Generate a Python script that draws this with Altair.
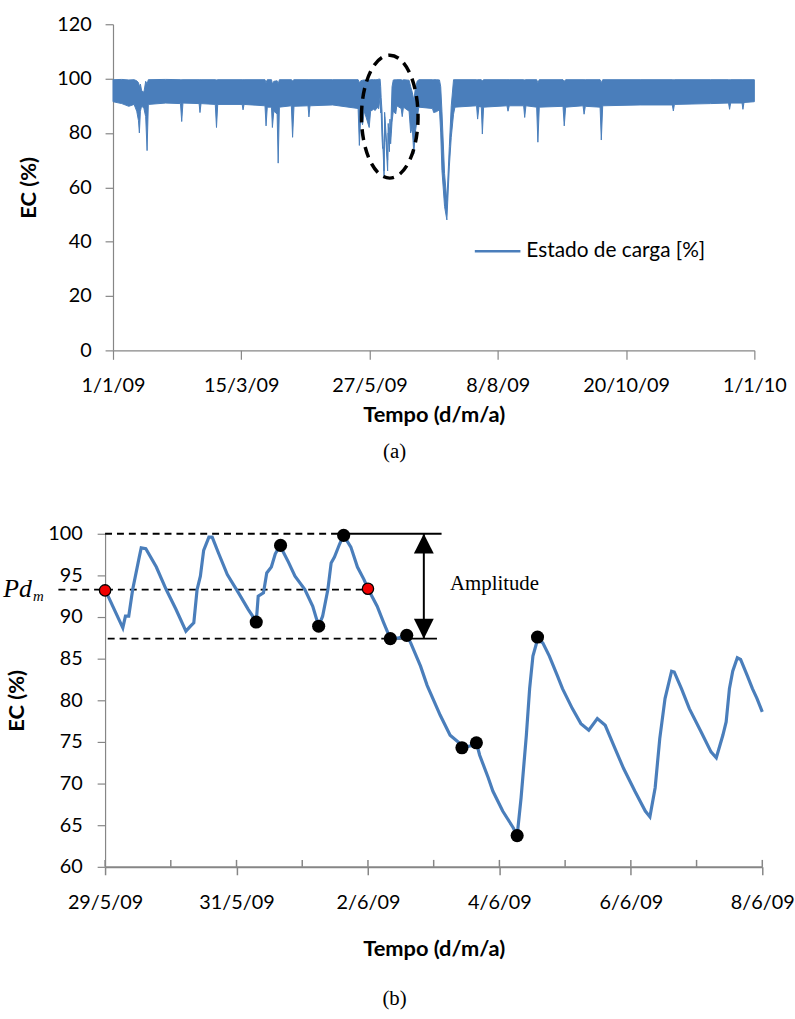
import altair as alt
import pandas as pd

BLUE = "#4A7EBB"
GRAY = "#868686"
SANS = "Lato"
SERIF = "Liberation Serif"

# ---------------- panel (a): one year of state of charge -----------------
# day offset from 1/1/09, lower and upper envelope of the hourly series (%)
a_day = [0, 5, 9, 12, 13.5, 14.5, 15.0, 15.6, 16.3, 17.6,
         18.6, 19.4, 20.1, 30, 38.4, 39.1, 39.8, 49.0, 49.5, 50.1,
         58.2, 58.9, 59.6, 73.5, 74.0, 74.6, 86.5, 87.1, 87.8, 90.2,
         90.7, 91.5, 93.4, 94.0, 94.7, 101.5, 102.2, 103.0, 111.0, 111.5,
         112.1, 125, 139.5, 140.2, 141.0, 142.0, 143.0, 145.8, 146.6, 148.27,
         149.23, 150.30, 151.25, 152.0, 152.34, 152.6, 153.1, 153.43, 153.65, 154.27,
         154.58, 155.36, 156.29, 156.62, 157.30, 157.62, 158.0, 158.8, 159.5, 160.9,
         161.5, 164.0, 164.6, 165.3, 168.5, 169.4, 170.3, 171.2, 172.0, 173.1,
         174.0, 181.8, 182.5, 184.0, 185.8, 186.5, 187.2, 188.7, 190.0, 191.4,
         192.5, 193.8, 194.6, 206.9, 207.5, 208.3, 209.6, 210.2, 210.9, 224.2,
         224.8, 225.5, 233.7, 234.3, 235.0, 241.1, 241.8, 242.6, 256.1, 256.8,
         257.6, 267.5, 268.1, 268.8, 277.2, 277.9, 278.7, 300, 318.3, 318.9,
         319.5, 340, 350.3, 350.9, 351.5, 358.0, 358.5, 359.1, 365]
a_low = [91.5, 90.8, 89.8, 90.5, 88.0, 84.5, 80.0, 88.0, 90.0, 89.0,
         86.0, 73.5, 90.5, 91.0, 90.8, 84.2, 91.0, 90.8, 87.5, 90.8,
         90.5, 82.0, 90.5, 90.5, 88.5, 90.5, 90.0, 82.6, 89.5, 89.5,
         82.0, 88.0, 87.0, 68.9, 89.5, 90.0, 78.4, 89.8, 90.0, 85.9,
         90.0, 90.3, 89.0, 75.4, 86.0, 83.0, 88.0, 82.0, 88.0, 88.7,
         88.3, 89.4, 88.9, 93.4, 87.4, 87.8, 78.2, 74.3, 74.9, 63.8,
         86.0, 76.4, 66.0, 80.0, 73.1, 82.0, 76.0, 84.0, 88.0, 87.0,
         90.0, 89.0, 86.0, 89.5, 88.0, 80.0, 82.0, 72.3, 80.0, 85.0,
         89.5, 89.0, 87.5, 87.8, 88.5, 80.0, 66.2, 52.9, 48.0, 67.5,
         78.4, 86.9, 89.5, 90.0, 85.1, 89.8, 89.5, 79.6, 89.5, 90.0,
         88.0, 90.0, 90.0, 85.7, 90.0, 89.5, 76.6, 89.5, 89.8, 82.6,
         89.5, 90.0, 86.9, 89.8, 89.5, 77.4, 90.0, 90.3, 90.3, 88.1,
         90.5, 90.8, 91.0, 88.7, 91.0, 91.0, 88.7, 91.2, 91.5]
a_high = [99.6, 99.7, 99.5, 99.6, 99.2, 98.5, 97.0, 98.0, 95.5, 95.0,
          99.0, 98.0, 99.6, 99.7, 99.6, 99.6, 99.6, 99.6, 99.6, 99.6,
          99.6, 99.5, 99.6, 99.6, 99.6, 99.6, 99.6, 98.5, 99.6, 99.6,
          98.0, 99.0, 99.2, 98.0, 99.6, 99.6, 99.2, 99.6, 99.6, 99.6,
          99.6, 99.6, 99.6, 98.5, 99.2, 99.4, 99.5, 99.5, 99.6, 99.6,
          99.6, 99.6, 99.8, 99.8, 97.0, 93.0, 88.0, 80.0, 78.0, 66.0,
          87.6, 80.0, 70.0, 83.5, 76.0, 85.1, 80.0, 97.0, 99.5, 99.6,
          99.6, 99.6, 99.4, 99.6, 99.4, 97.0, 95.0, 92.0, 96.0, 99.0,
          99.6, 99.6, 99.6, 99.6, 99.5, 97.0, 88.0, 65.0, 55.0, 75.0,
          90.0, 99.6, 99.6, 99.6, 99.6, 99.6, 99.6, 99.2, 99.6, 99.6,
          99.6, 99.6, 99.6, 99.5, 99.6, 99.6, 98.5, 99.6, 99.6, 99.0,
          99.6, 99.6, 99.6, 99.6, 99.6, 98.5, 99.6, 99.6, 99.6, 99.6,
          99.6, 99.6, 99.6, 99.6, 99.6, 99.6, 99.6, 99.6, 99.6]
assert len(a_day) == len(a_low) == len(a_high)
a_tick_dates = [(2009, 1, 1), (2009, 3, 15), (2009, 5, 27), (2009, 8, 8), (2009, 10, 20), (2010, 1, 1)]
a_y_ticks = [0, 20, 40, 60, 80, 100, 120]
a_ellipse_day = [157.5]
a_ellipse_val = [86.0]
a_legend_label = "Estado de carga [%]"

# ---------------- panel (b): 29/5/09 - 8/6/09 ----------------------------
b_day = [0.00, 0.27, 0.31, 0.36, 0.42, 0.52, 0.55, 0.62, 0.78, 0.93,
         1.08, 1.23, 1.30, 1.35, 1.40, 1.45, 1.50, 1.58, 1.63, 1.73,
         1.86, 2.03, 2.18, 2.28, 2.30, 2.33, 2.41, 2.46, 2.53, 2.59,
         2.66, 2.79, 2.89, 3.04, 3.16, 3.25, 3.31, 3.39, 3.44, 3.49,
         3.57, 3.63, 3.74, 3.84, 3.94, 4.00, 4.14, 4.24, 4.34, 4.47,
         4.59, 4.65, 4.80, 4.90, 5.10, 5.25, 5.40, 5.43, 5.60, 5.65,
         5.70, 5.83, 5.90, 6.05, 6.21, 6.27, 6.33, 6.41, 6.46, 6.51,
         6.58, 6.66, 6.76, 6.88, 6.96, 7.11, 7.24, 7.36, 7.49, 7.61,
         7.76, 7.89, 8.06, 8.22, 8.29, 8.37, 8.44, 8.52, 8.62, 8.66,
         8.77, 8.89, 9.07, 9.22, 9.30, 9.40, 9.45, 9.50, 9.55, 9.62,
         9.67, 9.77, 9.85, 9.92, 10.00]
b_val = [93.3, 88.7, 90.1, 90.1, 93.3, 97.2, 98.3, 98.2, 96.0, 93.3,
         90.9, 88.3, 88.9, 89.3, 93.3, 94.9, 98.0, 99.6, 99.6, 97.6,
         95.1, 92.9, 90.9, 89.7, 89.4, 92.5, 92.9, 95.3, 96.0, 97.6,
         98.6, 96.6, 94.9, 93.3, 91.3, 88.9, 90.1, 93.3, 96.5, 97.2,
         98.8, 99.8, 98.4, 96.0, 94.5, 93.4, 91.3, 89.3, 87.4, 87.5,
         87.8, 86.9, 84.1, 81.8, 78.2, 75.8, 74.8, 74.3, 74.6, 74.9,
         73.4, 70.7, 69.1, 66.7, 64.7, 63.75, 68.3, 75.8, 81.4, 85.3,
         87.3, 86.9, 85.3, 83.0, 81.4, 79.0, 77.2, 76.4, 77.8, 77.0,
         74.2, 71.8, 69.1, 66.7, 66.0, 69.5, 75.4, 80.2, 83.5, 83.4,
         81.4, 79.0, 76.2, 73.8, 73.1, 75.8, 77.4, 81.4, 83.5, 85.1,
         84.9, 83.0, 81.4, 80.2, 78.6]
assert len(b_day) == len(b_val)
b_black_day = [2.30, 2.67, 3.25, 3.63, 4.34, 4.59, 5.43, 5.65, 6.27, 6.58]
b_black_val = [89.4, 98.6, 88.9, 99.8, 87.4, 87.8, 74.3, 74.9, 63.75, 87.6]
b_red_day = [0.0, 4.0]
b_red_val = [93.2, 93.4]
b_tick_dates = [(2009, 5, 29), (2009, 5, 31), (2009, 6, 2), (2009, 6, 4), (2009, 6, 6), (2009, 6, 8)]
b_minor_days = [0, 1, 2, 3, 4, 5, 6, 7, 8, 9, 10]
b_y_ticks = [60, 65, 70, 75, 80, 85, 90, 95, 100]
# reference lines: level, start day, end day
b_dash_val = [100.0, 93.3, 87.4]
b_dash_start = [0.0, -0.71, 0.04]
b_dash_end = [3.63, 4.00, 4.34]
b_solid_val = [100.0, 87.4]
b_solid_start = [3.63, 4.34]
b_solid_end = [5.12, 5.05]
b_arrow_day = 4.85
b_amp_top, b_amp_bottom = 100.0, 87.4


def stamp(base, days):
    b = pd.Timestamp(base)
    return [(b + pd.to_timedelta(d, unit="D")).round("s").strftime("%Y-%m-%dT%H:%M:%S") for d in days]


def dt(y, m, d):
    return alt.DateTime(year=y, month=m, date=d)


LBL = 20     # tick label size
TTL = 22     # axis title size

# ======================= panel (a) =======================================
xa = dict(
    scale=alt.Scale(domain=[dt(2009, 1, 1), dt(2010, 1, 1)]),
    axis=alt.Axis(values=[dt(*d) for d in a_tick_dates], format="%-d/%-m/%y", formatType="time",
                  labelFlush=False, labelOverlap=False, grid=False,
                  tickSize=9, tickColor=GRAY, tickWidth=1.2, domainColor=GRAY, domainWidth=1.2,
                  labelFont=SANS, labelFontSize=LBL, labelColor="black", labelPadding=16,
                  title="Tempo (d/m/a)", titleFont=SANS, titleFontSize=TTL, titleFontWeight="bold",
                  titleColor="black", titleY=65, titleBaseline="middle"),
)
ya = dict(
    scale=alt.Scale(domain=[0, 120], nice=False, zero=False),
    axis=alt.Axis(values=a_y_ticks, grid=False, tickSize=8, tickColor=GRAY, tickWidth=1.2,
                  domainColor=GRAY, domainWidth=1.2, labelFont=SANS, labelFontSize=LBL,
                  labelColor="black", labelPadding=14, title="EC (%)", titleFont=SANS,
                  titleFontSize=TTL, titleFontWeight="bold", titleColor="black",
                  titleX=-78, titleBaseline="alphabetic"),
)

a_df = pd.DataFrame({"t": stamp("2009-01-01", a_day), "v": a_low, "v2": a_high})
band = alt.Chart(a_df).mark_area(color=BLUE, stroke=BLUE, strokeWidth=1, interpolate="linear").encode(
    x=alt.X("t:T", **xa), y=alt.Y("v:Q", **ya), y2="v2:Q")

ELLIPSE = "M -0.46 0 A 0.46 1 0 1 1 0.46 0 A 0.46 1 0 1 1 -0.46 0 Z"
ell_df = pd.DataFrame({"t": stamp("2009-01-01", a_ellipse_day), "v": a_ellipse_val})
ellipse = alt.Chart(ell_df).mark_point(shape=ELLIPSE, size=15376, filled=False, stroke="black",
                                       strokeWidth=3.5, strokeDash=[11, 7], opacity=1).encode(
    x=alt.X("t:T", **xa), y=alt.Y("v:Q", **ya))

one = pd.DataFrame({"k": [0]})
leg_line = alt.Chart(one).mark_rule(color=BLUE, strokeWidth=2.5).encode(
    x=alt.value(365), x2=alt.value(411), y=alt.value(229))
leg_text = alt.Chart(one).mark_text(text=a_legend_label, font=SANS, fontSize=21, color="black",
                                    align="left", baseline="middle").encode(
    x=alt.value(417), y=alt.value(229))
cap_a = alt.Chart(one).mark_text(text="(a)", font=SERIF, fontSize=21, color="black",
                                 align="center", baseline="middle").encode(
    x=alt.value(284), y=alt.value(432))
anchor_a = alt.Chart(one).mark_text(text=".", fontSize=2, color="white", align="left",
                                    baseline="top").encode(x=alt.value(0), y=alt.value(-19.3))

panel_a = alt.layer(band, ellipse, leg_line, leg_text, cap_a, anchor_a).properties(width=647, height=329)

# ======================= panel (b) =======================================
B0 = "2009-05-29"
xb = dict(
    scale=alt.Scale(domain=[dt(2009, 5, 29), dt(2009, 6, 8)]),
    axis=alt.Axis(values=[dt(*d) for d in b_tick_dates],
                  format="%-d/%-m/%y", formatType="time", labelFlush=False, labelOverlap=False,
                  grid=False, tickSize=8, tickColor=GRAY, tickWidth=1.5, domainColor=GRAY,
                  domainWidth=2, labelFont=SANS, labelFontSize=LBL, labelColor="black",
                  labelPadding=18, title="Tempo (d/m/a)", titleFont=SANS, titleFontSize=TTL,
                  titleFontWeight="bold", titleColor="black", titleY=82, titleBaseline="middle"),
)
yb = dict(
    scale=alt.Scale(domain=[60, 100], nice=False, zero=False),
    axis=alt.Axis(values=b_y_ticks, grid=False, tickSize=8, tickColor=GRAY, tickWidth=1.2,
                  domainColor=GRAY, domainWidth=1.2, labelFont=SANS, labelFontSize=LBL,
                  labelColor="black", labelPadding=15, title="EC (%)", titleFont=SANS,
                  titleFontSize=TTL, titleFontWeight="bold", titleColor="black",
                  titleX=-82.5, titleBaseline="alphabetic"),
)

minor_df = pd.DataFrame({"t": stamp(B0, b_minor_days), "v": [60] * len(b_minor_days),
                         "v2": [60.83] * len(b_minor_days)})
minor = alt.Chart(minor_df).mark_rule(color=GRAY, strokeWidth=1.5).encode(
    x=alt.X("t:T", **xb), y=alt.Y("v:Q", **yb), y2="v2:Q")

dash_df = pd.DataFrame({"t": stamp(B0, b_dash_start), "t2": stamp(B0, b_dash_end), "v": b_dash_val})
dashed = alt.Chart(dash_df).mark_rule(color="black", strokeWidth=1.8, strokeDash=[7, 5]).encode(
    x=alt.X("t:T", **xb), x2="t2:T", y=alt.Y("v:Q", **yb))
solid_df = pd.DataFrame({"t": stamp(B0, b_solid_start), "t2": stamp(B0, b_solid_end), "v": b_solid_val})
solid = alt.Chart(solid_df).mark_rule(color="black", strokeWidth=1.8).encode(
    x=alt.X("t:T", **xb), x2="t2:T", y=alt.Y("v:Q", **yb))

arrow_df = pd.DataFrame({"t": stamp(B0, [b_arrow_day]), "v": [b_amp_bottom], "v2": [b_amp_top]})
shaft = alt.Chart(arrow_df).mark_rule(color="black", strokeWidth=2).encode(
    x=alt.X("t:T", **xb), y=alt.Y("v:Q", **yb), y2="v2:Q")
head_up = alt.Chart(pd.DataFrame({"t": stamp(B0, [b_arrow_day]), "v": [b_amp_top]})).mark_point(
    shape="M 0 0 L 1 2 L -1 2 Z", size=400, filled=True, color="black", opacity=1).encode(
    x=alt.X("t:T", **xb), y=alt.Y("v:Q", **yb))
head_dn = alt.Chart(pd.DataFrame({"t": stamp(B0, [b_arrow_day]), "v": [b_amp_bottom]})).mark_point(
    shape="M 0 0 L 1 -2 L -1 -2 Z", size=400, filled=True, color="black", opacity=1).encode(
    x=alt.X("t:T", **xb), y=alt.Y("v:Q", **yb))

line_df = pd.DataFrame({"t": stamp(B0, b_day), "v": b_val})
line = alt.Chart(line_df).mark_line(color=BLUE, strokeWidth=3.2).encode(
    x=alt.X("t:T", **xb), y=alt.Y("v:Q", **yb))

black_df = pd.DataFrame({"t": stamp(B0, b_black_day), "v": b_black_val})
black = alt.Chart(black_df).mark_point(shape="circle", size=175, filled=True, color="black", opacity=1).encode(
    x=alt.X("t:T", **xb), y=alt.Y("v:Q", **yb))
red_df = pd.DataFrame({"t": stamp(B0, b_red_day), "v": b_red_val})
red = alt.Chart(red_df).mark_point(shape="circle", size=130, filled=True, fill="#F00000",
                                   stroke="black", strokeWidth=1.3, opacity=1).encode(
    x=alt.X("t:T", **xb), y=alt.Y("v:Q", **yb))

txt_df = pd.DataFrame({"t": stamp(B0, [5.249]), "v": [93.27], "s": ["Amplitude"]})
amp_txt = alt.Chart(txt_df).mark_text(font=SERIF, fontSize=21, color="black", align="left",
                                      baseline="alphabetic").encode(
    x=alt.X("t:T", **xb), y=alt.Y("v:Q", **yb), text="s:N")
pd_df = pd.DataFrame({"t": stamp(B0, [-1.548]), "v": [92.36], "s": ["Pd"]})
pd_txt = alt.Chart(pd_df).mark_text(font=SERIF, fontSize=26, fontStyle="italic", color="black",
                                    align="left", baseline="alphabetic").encode(
    x=alt.X("t:T", **xb), y=alt.Y("v:Q", **yb), text="s:N")
m_df = pd.DataFrame({"t": stamp(B0, [-1.098]), "v": [91.88], "s": ["m"]})
m_txt = alt.Chart(m_df).mark_text(font=SERIF, fontSize=15, fontStyle="italic", color="black",
                                  align="left", baseline="alphabetic").encode(
    x=alt.X("t:T", **xb), y=alt.Y("v:Q", **yb), text="s:N")

cap_b = alt.Chart(one).mark_text(text="(b)", font=SERIF, fontSize=21, color="black",
                                 align="center", baseline="middle").encode(
    x=alt.value(292), y=alt.value(469.5))
anchor_b = alt.Chart(one).mark_text(text=".", fontSize=2, color="white", align="left",
                                    baseline="top").encode(x=alt.value(-105.3), y=alt.value(0))

panel_b = alt.layer(minor, dashed, solid, shaft, head_up, head_dn, line, black, red,
                    amp_txt, pd_txt, m_txt, cap_b, anchor_b).properties(width=663, height=336)

chart = alt.vconcat(panel_a, panel_b, spacing=185, bounds="flush", center=True).properties(
    padding=0).configure_view(strokeWidth=0)

chart.save("out.html", embed_options={"renderer": "svg", "actions": False})
